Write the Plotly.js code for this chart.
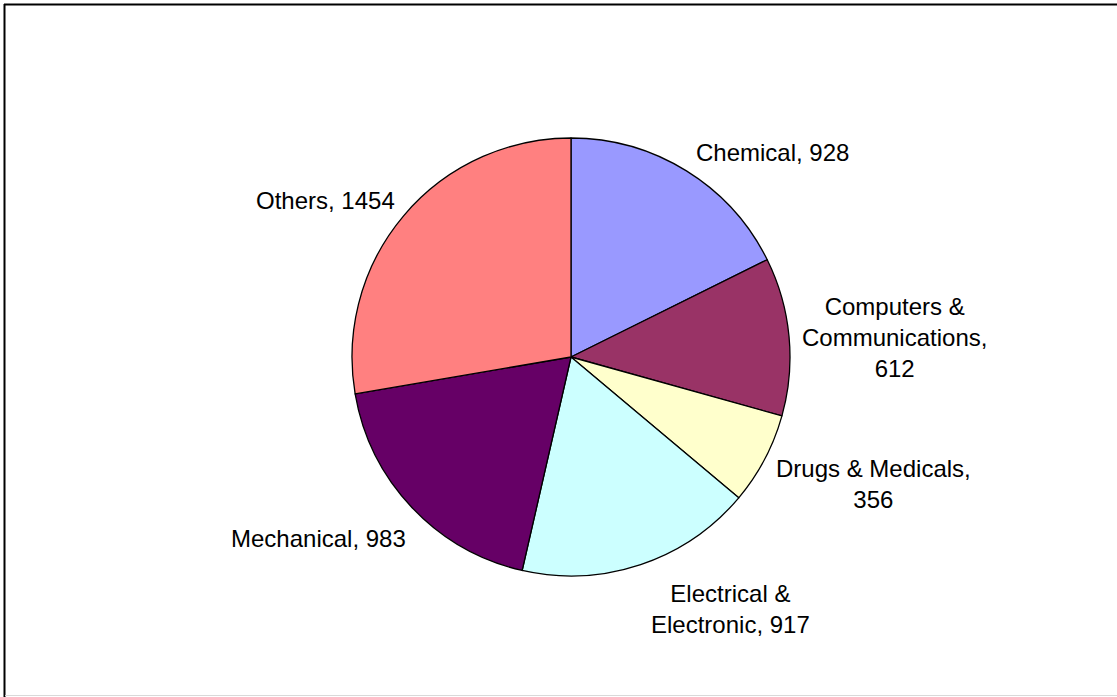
<!DOCTYPE html>
<html>
<head>
<meta charset="utf-8">
<script src="https://cdn.plot.ly/plotly-3.0.1.min.js"></script>
<style>html,body{margin:0;padding:0;background:#fff;}#chart{width:1117px;height:697px;}</style>
</head>
<body>
<div id="chart"></div>
<script>
const categories = ["Chemical", "Computers & Communications", "Drugs & Medicals", "Electrical & Electronic", "Mechanical", "Others"];
const labelLines = ["Chemical, ", "Computers &<br>Communications,<br>", "Drugs & Medicals,<br>", "Electrical &<br>Electronic, ", "Mechanical, ", "Others, "];
const values = [928, 612, 356, 917, 983, 1454];
const colors = ["#9999FF", "#993366", "#FFFFCC", "#CCFFFF", "#660066", "#FF8080"];

// label anchor positions in pixels (layout only)
const labelPos = [[772, 153], [894, 337], [873, 484], [730, 609], [318, 538], [325, 201]];
const W = 1117, H = 697;

const annotations = categories.map((c, i) => ({
  xref: "paper", yref: "paper",
  x: labelPos[i][0] / W, y: 1 - labelPos[i][1] / H,
  xanchor: "center", yanchor: "middle",
  text: labelLines[i] + values[i],
  showarrow: false, align: "center",
  font: {family: "Liberation Sans, Arial, sans-serif", size: 24, color: "#000"}
}));

const trace = {
  type: "pie",
  labels: categories,
  values: values,
  sort: false,
  direction: "clockwise",
  rotation: 0,
  textinfo: "none",
  hoverinfo: "label+value",
  marker: {colors: colors, line: {color: "#000", width: 1.3}},
  domain: {x: [352 / W, 790 / W], y: [1 - 576 / H, 1 - 138 / H]}
};

const layout = {
  width: W, height: H,
  margin: {l: 0, r: 0, t: 0, b: 0},
  paper_bgcolor: "#fff",
  showlegend: false,
  annotations: annotations,
  shapes: [
    {type: "line", xref: "paper", yref: "paper", x0: 4 / W, x1: 1, y0: 1 - 4.5 / H, y1: 1 - 4.5 / H, line: {color: "#000", width: 2}},
    {type: "line", xref: "paper", yref: "paper", x0: 4.5 / W, x1: 4.5 / W, y0: 0, y1: 1 - 4 / H, line: {color: "#000", width: 2}},
    {type: "line", xref: "paper", yref: "paper", x0: 5 / W, x1: 1, y0: 1 - 695.5 / H, y1: 1 - 695.5 / H, line: {color: "#d9d9d9", width: 1}}
  ]
};

Plotly.newPlot("chart", [trace], layout, {displayModeBar: false, staticPlot: true});
</script>
</body>
</html>
